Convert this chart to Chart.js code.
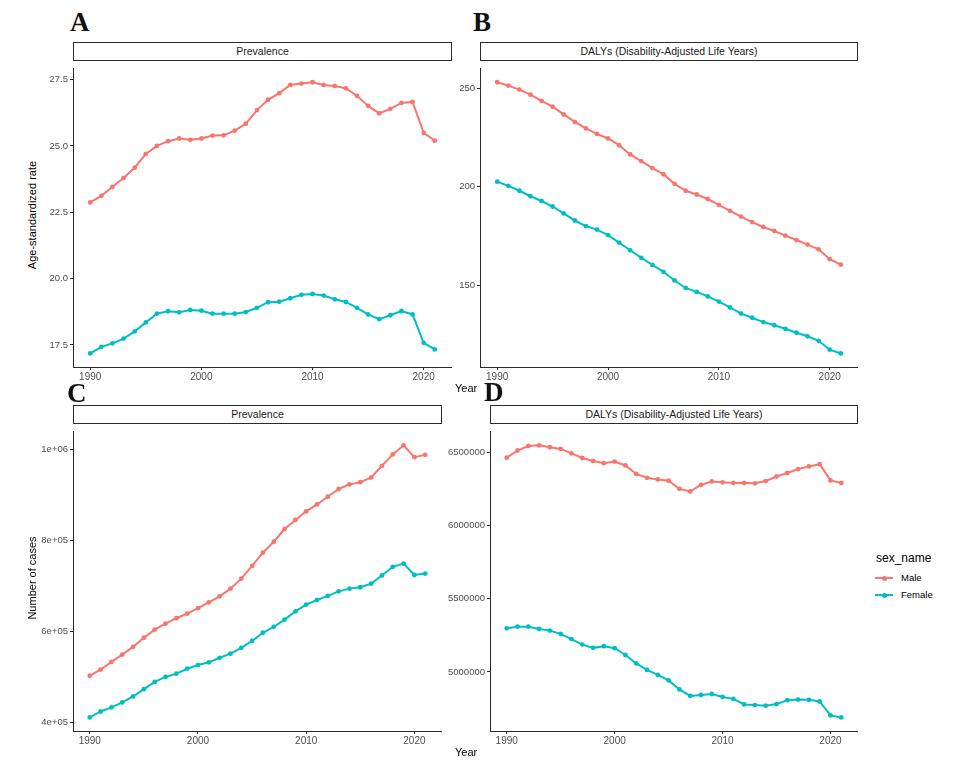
<!DOCTYPE html>
<html>
<head>
<meta charset="utf-8">
<title>Prevalence and DALYs by sex, 1990-2021</title>
<script src="https://cdn.jsdelivr.net/npm/chart.js@4.4.1/dist/chart.umd.min.js"></script>
<style>
  body { margin: 0; background: #fff; width: 968px; height: 761px; position: relative; overflow: hidden;
         font-family: "Liberation Sans", Arial, Helvetica, sans-serif; }
  .letter { position: absolute; font-family: "Liberation Serif", "Times New Roman", serif; font-weight: bold;
            font-size: 27px; line-height: 1; color: #111; }
  .strip { position: absolute; border: 1px solid #2b2b2b; box-sizing: border-box; background: #fff;
           font-size: 10.5px; color: #1a1a1a; text-align: center; line-height: 17px; }
  .ytitle { position: absolute; width: 200px; height: 14px; line-height: 14px; text-align: center;
            font-size: 11px; color: #000; transform: rotate(-90deg); white-space: nowrap; }
  .xtitle { position: absolute; font-size: 11px; line-height: 14px; color: #000; }
  .legend-title { position: absolute; font-size: 12px; line-height: 14px; color: #000; }
  .legend-key { position: absolute; width: 18px; height: 2px; }
  .legend-dot { position: absolute; width: 5px; height: 5px; border-radius: 50%; left: 6.5px; top: -1.5px; }
  .legend-label { position: absolute; font-size: 9.5px; line-height: 12px; color: #000; }
  .panel { position: absolute; }
</style>
</head>
<body>

<script>
// Daftar tahun dan nilai tiap panel
const years = [1990, 1991, 1992, 1993, 1994, 1995, 1996, 1997, 1998, 1999, 2000, 2001, 2002, 2003, 2004, 2005,
               2006, 2007, 2008, 2009, 2010, 2011, 2012, 2013, 2014, 2015, 2016, 2017, 2018, 2019, 2020, 2021];
const xTicks = [1990, 2000, 2010, 2020];

// A: Prevalence, age-standardized rate
const rateMaleA = [22.87, 23.12, 23.46, 23.79, 24.18, 24.70, 25.00, 25.18, 25.28, 25.23, 25.28, 25.39, 25.40, 25.58, 25.84, 26.35,
                   26.74, 26.99, 27.30, 27.35, 27.40, 27.30, 27.26, 27.17, 26.89, 26.51, 26.23, 26.40, 26.62, 26.66, 25.49, 25.20];
const rateFemaleA = [17.18, 17.43, 17.56, 17.74, 18.01, 18.35, 18.68, 18.77, 18.73, 18.82, 18.79, 18.68, 18.68, 18.68, 18.74, 18.90,
                     19.11, 19.13, 19.26, 19.39, 19.42, 19.36, 19.22, 19.12, 18.90, 18.65, 18.47, 18.62, 18.78, 18.65, 17.58, 17.33];
const yTicksA = [17.5, 20.0, 22.5, 25.0, 27.5];

// B: DALYs, age-standardized rate
const rateMaleB = [253.0, 251.3, 249.3, 246.7, 243.6, 240.6, 236.7, 232.9, 229.6, 226.8, 224.5, 221.1, 216.4, 213.0, 209.5, 206.4,
                   201.5, 198.0, 196.1, 193.8, 190.8, 187.8, 184.9, 182.1, 179.6, 177.6, 175.2, 173.0, 170.7, 168.3, 163.3, 160.5];
const rateFemaleB = [202.6, 200.5, 198.0, 195.2, 192.8, 190.0, 186.5, 182.9, 180.1, 178.3, 175.5, 171.7, 167.8, 164.0, 160.4, 156.9,
                     152.5, 148.7, 146.7, 144.4, 141.8, 138.8, 135.7, 133.6, 131.4, 129.8, 128.0, 126.0, 124.2, 121.9, 117.4, 115.5];
const yTicksB = [150, 200, 250];

// C: Prevalence, number of cases
const casesMaleC = [502500, 516000, 533000, 549000, 566000, 586000, 604000, 617000, 629000, 639000, 651000, 664000, 677000, 694000, 716000, 744000,
                    773000, 797000, 825000, 845000, 864000, 879000, 896000, 913000, 923000, 928000, 938000, 964000, 989000, 1009000, 983000, 988000];
const casesFemaleC = [411000, 424000, 433000, 444000, 457000, 473000, 489000, 500000, 507000, 518000, 526000, 532000, 542000, 551000, 564000, 579000,
                      597000, 610000, 626000, 644000, 659000, 669000, 678000, 688000, 694000, 697000, 705000, 723000, 742000, 749000, 724000, 727000];
const yTicksC = [400000, 600000, 800000, 1000000];

// D: DALYs, number of cases
const casesMaleD = [6464400, 6513300, 6544400, 6548900, 6535600, 6524400, 6493300, 6462200, 6442200, 6426700, 6437800, 6411100, 6353300, 6326700, 6315600, 6306700,
                    6251100, 6233300, 6277800, 6302200, 6295600, 6291100, 6291100, 6288900, 6304400, 6335600, 6360000, 6386700, 6404400, 6420000, 6308900, 6291100];
const casesFemaleD = [5297900, 5308900, 5308900, 5293300, 5282200, 5260000, 5224400, 5186700, 5164400, 5175600, 5162200, 5115600, 5057800, 5013300, 4980000, 4942200,
                      4880000, 4835600, 4842200, 4848900, 4828900, 4815600, 4777800, 4773300, 4768900, 4780000, 4806700, 4811100, 4808900, 4797800, 4702400, 4689100];
const yTicksD = [5000000, 5500000, 6000000, 6500000];

const sexNames = ['Male', 'Female'];
const sexColors = ['#F8766D', '#00BFC4'];

Chart.defaults.font.family = '"Liberation Sans", Arial, Helvetica, sans-serif';

const X_AXIS_H = 18;
const AXIS_COLOR = '#2b2b2b';
const TICK_COLOR = '#4d4d4d';

// format tick gaya R: 1e+06, 8e+05
function sciLabel(v) {
    const exp = Math.floor(Math.log10(v));
    const mant = v / Math.pow(10, exp);
    const e = String(exp).padStart(2, '0');
    return (Number.isInteger(mant) ? mant : mant.toFixed(1)) + 'e+' + e;
}

// rentang sumbu dengan ekspansi 5% seperti ggplot
function expand(values) {
    const lo = Math.min(...values), hi = Math.max(...values);
    const pad = (hi - lo) * 0.05;
    return [lo - pad, hi + pad];
}

function addEl(cls, text, style) {
    const el = document.createElement('div');
    el.className = cls;
    if (text) el.textContent = text;
    Object.assign(el.style, style);
    document.body.appendChild(el);
    return el;
}

function makePanel(p) {
    const wrap = addEl('panel', null, {
        left: (p.x - p.axisW) + 'px', top: p.y + 'px',
        width: (p.w + p.axisW) + 'px', height: (p.h + X_AXIS_H) + 'px'
    });
    const canvas = document.createElement('canvas');
    wrap.appendChild(canvas);

    const [xMin, xMax] = expand(years);
    const [yMin, yMax] = expand(p.series[0].concat(p.series[1]));

    new Chart(canvas, {
        type: 'line',
        data: {
            datasets: p.series.map((vals, k) => ({
                label: sexNames[k],
                data: years.map((yr, i) => ({ x: yr, y: vals[i] })),
                borderColor: sexColors[k],
                backgroundColor: sexColors[k],
                borderWidth: 2,
                pointRadius: 2.4,
                pointHoverRadius: 2.4,
                pointBorderWidth: 0,
                tension: 0
            }))
        },
        options: {
            responsive: true,
            maintainAspectRatio: false,
            animation: false,
            events: [],
            layout: { padding: 0, autoPadding: false },
            plugins: { legend: { display: false }, tooltip: { enabled: false } },
            scales: {
                x: {
                    type: 'linear', min: xMin, max: xMax,
                    afterBuildTicks: s => { s.ticks = xTicks.map(v => ({ value: v })); },
                    afterFit: s => { s.height = X_AXIS_H; },
                    grid: { drawOnChartArea: false, drawTicks: true, tickLength: 3, color: AXIS_COLOR },
                    border: { display: true, color: AXIS_COLOR, width: 1 },
                    ticks: { font: { size: 10 }, color: TICK_COLOR, padding: 1, maxRotation: 0, autoSkip: false,
                             callback: v => String(v) }
                },
                y: {
                    type: 'linear', min: yMin, max: yMax,
                    afterBuildTicks: s => { s.ticks = p.yTicks.map(v => ({ value: v })); },
                    afterFit: s => { s.width = p.axisW; },
                    grid: { drawOnChartArea: false, drawTicks: true, tickLength: 3, color: AXIS_COLOR },
                    border: { display: true, color: AXIS_COLOR, width: 1 },
                    ticks: { font: { size: 9.5 }, color: TICK_COLOR, padding: 2, autoSkip: false,
                             callback: p.fmt }
                }
            }
        }
    });

    // strip judul panel dan huruf panel
    addEl('strip', p.strip, { left: p.x + 'px', top: (p.y - 19) + 'px', width: p.w + 'px', height: '19px' });
    addEl('letter', p.letter, { left: p.letterX + 'px', top: p.letterY + 'px' });
}

const panels = [
    { letter: 'A', strip: 'Prevalence', series: [rateMaleA, rateFemaleA], yTicks: yTicksA,
      fmt: v => v.toFixed(1), x: 73, y: 61, w: 379, h: 306, axisW: 33, letterX: 70, letterY: 9 },
    { letter: 'B', strip: 'DALYs (Disability-Adjusted Life Years)', series: [rateMaleB, rateFemaleB], yTicks: yTicksB,
      fmt: v => String(v), x: 480, y: 61, w: 378, h: 306, axisW: 30, letterX: 473, letterY: 9 },
    { letter: 'C', strip: 'Prevalence', series: [casesMaleC, casesFemaleC], yTicks: yTicksC,
      fmt: sciLabel, x: 73, y: 424, w: 369, h: 307, axisW: 38, letterX: 67, letterY: 380 },
    { letter: 'D', strip: 'DALYs (Disability-Adjusted Life Years)', series: [casesMaleD, casesFemaleD], yTicks: yTicksD,
      fmt: v => String(v), x: 490, y: 424, w: 368, h: 307, axisW: 48, letterX: 484, letterY: 379 }
];

panels.forEach(makePanel);

// judul sumbu
addEl('ytitle', 'Age-standardized rate', { left: (32 - 100) + 'px', top: (215 - 7) + 'px' });
addEl('ytitle', 'Number of cases', { left: (32 - 100) + 'px', top: (578 - 7) + 'px' });
addEl('xtitle', 'Year', { left: '455px', top: '381px' });
addEl('xtitle', 'Year', { left: '455px', top: '745px' });

// legenda sex_name
addEl('legend-title', 'sex_name', { left: '876px', top: '551px' });
sexNames.forEach((name, k) => {
    const cy = 578 + k * 17;
    const key = addEl('legend-key', null, { left: '875px', top: (cy - 1) + 'px', background: sexColors[k] });
    const dot = document.createElement('div');
    dot.className = 'legend-dot';
    dot.style.background = sexColors[k];
    key.appendChild(dot);
    addEl('legend-label', name, { left: '901px', top: (cy - 6) + 'px' });
});
</script>
</body>
</html>
